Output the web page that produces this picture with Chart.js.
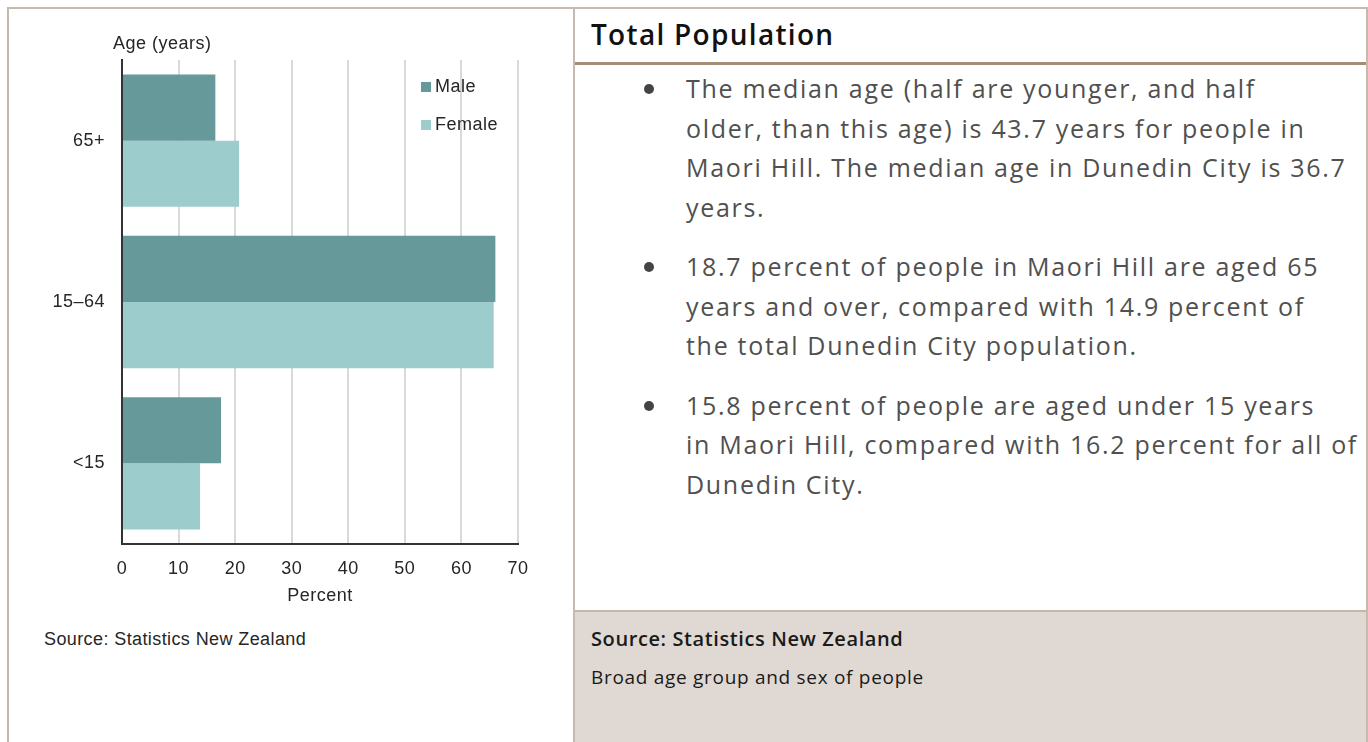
<!DOCTYPE html>
<html lang="en">
<head>
    <meta charset="UTF-8">
    <title>Maori Hill - Total Population</title>
    <script src="https://cdn.jsdelivr.net/npm/chart.js"></script>
    <style>
        body {
            margin: 0;
            background: #ffffff;
            width: 1368px;
            height: 742px;
            overflow: hidden;
            position: relative;
            font-family: "Liberation Sans", Arial, sans-serif;
        }

        /* outer frame, cut off at the bottom like the reference */
        .frame {
            position: absolute;
            left: 7px;
            top: 7px;
            width: 1357px;
            height: 740px;
            border-left: 2px solid #c5baad;
            border-top: 2px solid #c5baad;
            border-right: 2px solid #c5baad;
        }

        #chart-box {
            position: absolute;
            left: 9px;
            top: 9px;
            width: 562px;
            height: 610px;
        }

        .chart-source {
            position: absolute;
            left: 44px;
            top: 629px;
            font-size: 18px;
            letter-spacing: 0.4px;
            color: #262626;
        }

        .panel {
            position: absolute;
            left: 573px;
            top: 9px;
            width: 791px;
            height: 733px;
            border-left: 2px solid #c5baad;
            font-family: "Open Sans", sans-serif;
        }

        .panel-head {
            height: 53px;
            border-bottom: 3px solid #a38f77;
            font-weight: 600;
            font-size: 28px;
            letter-spacing: 1.3px;
            line-height: 50px;
            padding-left: 16px;
            color: #111;
        }

        .panel ul {
            list-style: none;
            margin: 0;
            padding: 4px 0 0 0;
            font-size: 25px;
            letter-spacing: 1.7px;
            line-height: 39.5px;
            color: #505050;
        }

        .panel li {
            position: relative;
            padding-left: 111px;
            margin-bottom: 20px;
            white-space: nowrap;
        }

        .panel li::before {
            content: "";
            position: absolute;
            left: 69px;
            top: 15px;
            width: 10px;
            height: 10px;
            border-radius: 50%;
            background: #444;
        }

        .panel-foot {
            position: absolute;
            left: 0;
            top: 601px;
            width: 791px;
            height: 132px;
            background: #e0d9d3;
            border-top: 2px solid #c3b7a9;
            color: #1a1a1a;
        }

        .panel-foot .src {
            position: absolute;
            left: 16px;
            top: 13px;
            font-size: 20px;
            font-weight: 600;
            letter-spacing: 0.6px;
        }

        .panel-foot .desc {
            position: absolute;
            left: 16px;
            top: 52px;
            font-size: 19px;
            letter-spacing: 0.7px;
        }
    </style>
</head>
<body>
    <div class="frame"></div>

    <div id="chart-box">
        <canvas id="age-chart"></canvas>
    </div>
    <div class="chart-source">Source: Statistics New Zealand</div>

    <div class="panel">
        <div class="panel-head">Total Population</div>
        <ul>
            <li>The median age (half are younger, and half<br>older, than this age) is 43.7 years for people in<br>Maori Hill. The median age in Dunedin City is 36.7<br>years.</li>
            <li>18.7 percent of people in Maori Hill are aged 65<br>years and over, compared with 14.9 percent of<br>the total Dunedin City population.</li>
            <li>15.8 percent of people are aged under 15 years<br>in Maori Hill, compared with 16.2 percent for all of<br>Dunedin City.</li>
        </ul>
        <div class="panel-foot">
            <div class="src">Source: Statistics New Zealand</div>
            <div class="desc">Broad age group and sex of people</div>
        </div>
    </div>

    <script>
        // values (percent)
        const ageGroups = ['65+', '15\u201364', '<15'];
        const maleValues = [16.5, 66.0, 17.5];
        const femaleValues = [20.7, 65.7, 13.8];
        const percentTicks = [0, 10, 20, 30, 40, 50, 60, 70];

        const maleColor = '#669999';
        const femaleColor = '#9ccdcc';
        const textColor = '#262626';
        const chartFont = { family: '"Liberation Sans", Arial, sans-serif', size: 18 };

        // slightly wider lettering like the original export
        const spacingPlugin = {
            id: 'spacing',
            beforeDraw(chart) { chart.ctx.letterSpacing = '0.5px'; }
        };

        // "Age (years)" above the y axis and the legend inside the plot
        const extrasPlugin = {
            id: 'extras',
            afterDraw(chart) {
                const ctx = chart.ctx;
                const area = chart.chartArea;
                ctx.save();
                ctx.font = '18px "Liberation Sans", Arial, sans-serif';
                ctx.fillStyle = textColor;
                ctx.textBaseline = 'middle';
                ctx.textAlign = 'left';
                ctx.fillText('Age (years)', area.left - 9, area.top - 16);

                chart.data.datasets.forEach((ds, i) => {
                    const y = area.top + 27 + i * 38;
                    ctx.fillStyle = ds.backgroundColor;
                    ctx.fillRect(area.left + 299, y - 5, 10, 10);
                    ctx.fillStyle = textColor;
                    ctx.fillText(ds.label, area.left + 313, y);
                });
                ctx.restore();
            }
        };

        const ctx = document.getElementById('age-chart').getContext('2d');
        const ageChart = new Chart(ctx, {
            type: 'bar',
            data: {
                labels: ageGroups,
                datasets: [
                    {
                        label: 'Male',
                        data: maleValues,
                        backgroundColor: maleColor,
                        categoryPercentage: 0.82,
                        barPercentage: 1.0
                    },
                    {
                        label: 'Female',
                        data: femaleValues,
                        backgroundColor: femaleColor,
                        categoryPercentage: 0.82,
                        barPercentage: 1.0
                    }
                ]
            },
            options: {
                indexAxis: 'y',
                responsive: true,
                maintainAspectRatio: false,
                animation: false,
                layout: {
                    padding: { top: 51, right: 53, left: 0, bottom: 0 }
                },
                scales: {
                    x: {
                        min: 0,
                        max: 70,
                        afterFit: (scale) => { scale.height = 75; },
                        afterBuildTicks: (scale) => {
                            scale.ticks = percentTicks.map(v => ({ value: v }));
                        },
                        grid: {
                            color: '#d9d9d9',
                            lineWidth: 2,
                            drawTicks: false
                        },
                        border: { display: true, color: '#333333', width: 2 },
                        ticks: {
                            color: textColor,
                            font: chartFont,
                            padding: 14,
                            maxRotation: 0
                        },
                        title: {
                            display: true,
                            text: 'Percent',
                            color: textColor,
                            font: chartFont,
                            padding: { top: 4, bottom: 12 }
                        }
                    },
                    y: {
                        afterFit: (scale) => { scale.width = 113; },
                        grid: { display: false, drawTicks: false },
                        border: { display: true, color: '#333333', width: 2 },
                        ticks: {
                            color: textColor,
                            font: chartFont,
                            padding: 17
                        }
                    }
                },
                plugins: {
                    legend: { display: false },
                    tooltip: { enabled: false }
                }
            },
            plugins: [spacingPlugin, extrasPlugin]
        });
    </script>
</body>
</html>
